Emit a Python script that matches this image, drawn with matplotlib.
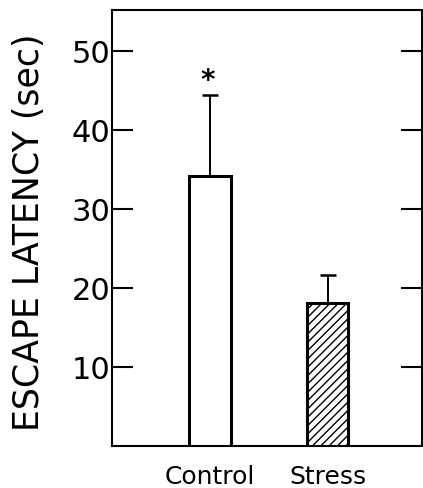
import matplotlib
matplotlib.use("Agg")
import matplotlib.pyplot as plt

categories = ["Control", "Stress"]
means = [34.2, 18.1]
errors_up = [10.2, 3.6]
hatches = ["", "////"]
yticks = [10, 20, 30, 40, 50]
significance = ["*", ""]

plt.rcParams['font.family'] = ['DejaVu Sans']
plt.rcParams['hatch.linewidth'] = 1.0

fig = plt.figure(figsize=(4.23, 4.88), dpi=100)
ax = fig.add_axes([112/423, 1 - 446/488, 310/423, 436/488])

pos = [1, 2]
for p, m, e, h, s in zip(pos, means, errors_up, hatches, significance):
    ax.bar(p, m, width=0.357, color="white", edgecolor="black", linewidth=2.2,
           hatch=h, zorder=3)
    ax.errorbar(p, m, yerr=[[0], [e]], fmt="none", ecolor="black",
                elinewidth=1.4, capsize=6, capthick=1.8, zorder=2)
    if s:
        ax.text(p - 0.02, m + e + 0.1, s, ha="center", va="bottom",
                fontsize=20, fontweight="bold")

ax.set_xlim(0.166, 2.804)
ax.set_ylim(0, 55.2)
ax.set_yticks(yticks)
ax.set_yticklabels([str(t) for t in yticks], fontsize=22)
ax.tick_params(axis="y", direction="in", length=15, width=1.5, pad=1,
               right=True, left=True)
ax.set_xticks(pos)
ax.set_xticklabels(categories, fontsize=18)
ax.tick_params(axis="x", length=0, pad=14)
for sp in ax.spines.values():
    sp.set_linewidth(1.5)
ax.set_ylabel("ESCAPE LATENCY (sec)", fontsize=25)
ax.yaxis.set_label_coords(-0.212, 0.49)

fig.savefig("out.png", dpi=100)
